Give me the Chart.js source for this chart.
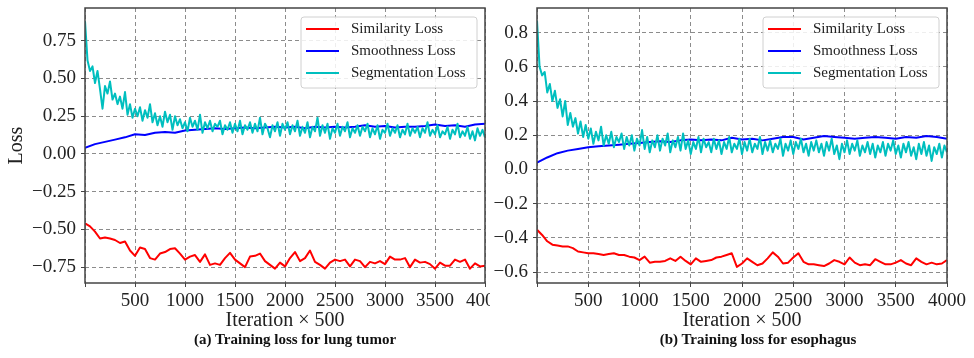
<!DOCTYPE html>
<html>
<head>
<meta charset="utf-8">
<script src="https://cdn.jsdelivr.net/npm/chart.js@4.4.1/dist/chart.umd.min.js"></script>
<style>
  body { margin: 0; background: #fff; width: 974px; height: 358px; overflow: hidden; position: relative; }
  .panel { position: absolute; top: 0; height: 358px; }
  #panelA { left: 0; width: 490px; }
  #panelB { left: 490px; width: 484px; }
  .caption { position: absolute; top: 331px; font: bold 15px "Liberation Serif", serif; color: #111; white-space: nowrap; transform: translateX(-50%); }
</style>
</head>
<body>
<div class="panel" id="panelA"><canvas id="chartA" width="490" height="358"></canvas></div>
<div class="panel" id="panelB"><canvas id="chartB" width="484" height="358"></canvas></div>
<div class="caption" style="left:295px">(a) Training loss for lung tumor</div>
<div class="caption" style="left:758px">(b) Training loss for esophagus</div>
<script>
// iteration positions (x) at three sampling steps
function range(start, stop, step) {
    const out = [];
    for (let v = start; v <= stop; v += step) out.push(v);
    return out;
}
const iters25 = range(0, 4000, 25);
const iters50 = range(0, 4000, 50);
const iters100 = range(0, 4000, 100);

const seriesLabels = ['Similarity Loss', 'Smoothness Loss', 'Segmentation Loss'];

// (a) lung tumor
const lungSimilarity = [
    -0.46, -0.48, -0.515, -0.56, -0.553, -0.56, -0.57, -0.59, -0.58, -0.64,
    -0.675, -0.62, -0.63, -0.69, -0.70, -0.66, -0.65, -0.63, -0.625, -0.66,
    -0.70, -0.68, -0.67, -0.715, -0.665, -0.735, -0.725, -0.735, -0.69, -0.655,
    -0.70, -0.725, -0.75, -0.68, -0.675, -0.66, -0.71, -0.735, -0.76, -0.72,
    -0.745, -0.69, -0.65, -0.71, -0.69, -0.64, -0.715, -0.735, -0.76, -0.72,
    -0.70, -0.71, -0.70, -0.745, -0.70, -0.71, -0.75, -0.715, -0.725, -0.71,
    -0.73, -0.68, -0.70, -0.70, -0.69, -0.75, -0.70, -0.72, -0.715, -0.73,
    -0.76, -0.72, -0.74, -0.74, -0.70, -0.715, -0.70, -0.76, -0.725, -0.745,
    -0.74
];
const lungSmoothness = [
    0.04, 0.065, 0.08, 0.095, 0.11, 0.13, 0.125, 0.14, 0.145, 0.14,
    0.155, 0.16, 0.165, 0.17, 0.165, 0.17, 0.175, 0.17, 0.175, 0.18,
    0.175, 0.18, 0.17, 0.18, 0.175, 0.18, 0.175, 0.18, 0.19, 0.18,
    0.185, 0.175, 0.18, 0.18, 0.185, 0.195, 0.185, 0.19, 0.18, 0.195,
    0.20
];
const lungSegmentation = [
    0.88, 0.62, 0.55, 0.58, 0.47, 0.55, 0.43, 0.30, 0.45, 0.40,
    0.48, 0.36, 0.40, 0.33, 0.38, 0.30, 0.41, 0.26, 0.33, 0.24,
    0.30, 0.25, 0.31, 0.22, 0.29, 0.24, 0.33, 0.21, 0.27, 0.19,
    0.25, 0.18, 0.28, 0.21, 0.26, 0.16, 0.25, 0.19, 0.23, 0.17,
    0.21, 0.15, 0.24, 0.18, 0.22, 0.16, 0.26, 0.14, 0.21, 0.17,
    0.22, 0.15, 0.20, 0.18, 0.22, 0.13, 0.19, 0.16, 0.21, 0.14,
    0.20, 0.15, 0.22, 0.13, 0.19, 0.16, 0.21, 0.14, 0.20, 0.15,
    0.24, 0.13, 0.20, 0.17, 0.11, 0.19, 0.15, 0.21, 0.12, 0.20,
    0.16, 0.21, 0.13, 0.19, 0.15, 0.22, 0.12, 0.18, 0.14, 0.21,
    0.11, 0.18, 0.15, 0.24, 0.12, 0.19, 0.14, 0.20, 0.10, 0.17,
    0.14, 0.20, 0.12, 0.18, 0.15, 0.21, 0.11, 0.17, 0.14, 0.19,
    0.12, 0.18, 0.15, 0.20, 0.11, 0.17, 0.13, 0.19, 0.10, 0.16,
    0.14, 0.20, 0.12, 0.17, 0.14, 0.19, 0.11, 0.16, 0.13, 0.20,
    0.12, 0.17, 0.14, 0.18, 0.11, 0.17, 0.14, 0.21, 0.12, 0.16,
    0.13, 0.19, 0.11, 0.15, 0.13, 0.18, 0.10, 0.16, 0.13, 0.20,
    0.11, 0.15, 0.12, 0.18, 0.10, 0.15, 0.09, 0.17, 0.12, 0.16,
    0.11
];

// (b) esophagus
const esoSimilarity = [
    -0.353, -0.383, -0.42, -0.44, -0.445, -0.45, -0.45, -0.46, -0.48, -0.485,
    -0.49, -0.49, -0.495, -0.50, -0.495, -0.49, -0.50, -0.50, -0.51, -0.515,
    -0.53, -0.51, -0.545, -0.54, -0.54, -0.535, -0.52, -0.535, -0.51, -0.535,
    -0.555, -0.52, -0.54, -0.535, -0.53, -0.515, -0.51, -0.50, -0.49, -0.57,
    -0.55, -0.52, -0.54, -0.56, -0.55, -0.52, -0.485, -0.51, -0.55, -0.545,
    -0.515, -0.49, -0.54, -0.555, -0.555, -0.56, -0.565, -0.55, -0.53, -0.54,
    -0.555, -0.515, -0.545, -0.56, -0.555, -0.56, -0.525, -0.54, -0.555, -0.555,
    -0.545, -0.53, -0.55, -0.56, -0.52, -0.54, -0.555, -0.545, -0.555, -0.55,
    -0.53
];
const esoSmoothness = [
    0.04, 0.07, 0.095, 0.11, 0.12, 0.13, 0.135, 0.14, 0.145, 0.15,
    0.155, 0.16, 0.165, 0.16, 0.17, 0.175, 0.17, 0.175, 0.17, 0.185,
    0.175, 0.18, 0.17, 0.18, 0.19, 0.19, 0.175, 0.185, 0.195, 0.19,
    0.185, 0.18, 0.185, 0.19, 0.185, 0.18, 0.19, 0.185, 0.195, 0.19,
    0.18
];
const esoSegmentation = [
    0.87, 0.60, 0.55, 0.57, 0.45, 0.50, 0.40, 0.46, 0.36, 0.41,
    0.31, 0.40, 0.26, 0.33, 0.25, 0.30, 0.21, 0.28, 0.19, 0.26,
    0.18, 0.24, 0.15, 0.22, 0.17, 0.25, 0.14, 0.20, 0.15, 0.22,
    0.13, 0.19, 0.16, 0.21, 0.12, 0.19, 0.14, 0.20, 0.11, 0.18,
    0.14, 0.23, 0.12, 0.19, 0.10, 0.17, 0.13, 0.20, 0.11, 0.18,
    0.14, 0.21, 0.10, 0.17, 0.13, 0.19, 0.11, 0.21, 0.12, 0.17,
    0.09, 0.16, 0.12, 0.19, 0.10, 0.18, 0.13, 0.16, 0.10, 0.18,
    0.12, 0.17, 0.09, 0.16, 0.12, 0.19, 0.10, 0.15, 0.12, 0.18,
    0.09, 0.16, 0.11, 0.18, 0.10, 0.15, 0.12, 0.19, 0.09, 0.16,
    0.11, 0.17, 0.10, 0.15, 0.12, 0.18, 0.08, 0.15, 0.11, 0.17,
    0.09, 0.16, 0.12, 0.18, 0.10, 0.15, 0.08, 0.16, 0.11, 0.17,
    0.10, 0.15, 0.08, 0.16, 0.11, 0.18, 0.09, 0.14, 0.06, 0.15,
    0.10, 0.17, 0.09, 0.15, 0.11, 0.17, 0.08, 0.14, 0.10, 0.16,
    0.09, 0.15, 0.07, 0.14, 0.10, 0.16, 0.08, 0.15, 0.11, 0.17,
    0.09, 0.14, 0.07, 0.15, 0.10, 0.16, 0.08, 0.13, 0.06, 0.15,
    0.09, 0.16, 0.08, 0.14, 0.05, 0.13, 0.09, 0.15, 0.07, 0.14,
    0.10
];

const FONT = '"Liberation Serif", "Times New Roman", serif';
const seriesColors = ['#ff0000', '#0000ff', '#00bfbf'];

function pairs(xs, ys) {
    return ys.map((y, i) => ({ x: xs[i], y: y }));
}

// frame around plot area + legend box in the upper right corner
const framePlugin = {
    id: 'frame',
    afterDraw(chart) {
        const ctx = chart.ctx;
        const a = chart.chartArea;
        ctx.save();
        ctx.strokeStyle = '#444';
        ctx.lineWidth = 1.5;
        ctx.strokeRect(a.left, a.top, a.right - a.left, a.bottom - a.top);

        // legend
        const w = 176, h = 71;
        const bx = a.right - 8 - w, by = a.top + 9;
        ctx.beginPath();
        ctx.roundRect(bx, by, w, h, 3);
        ctx.fillStyle = 'rgba(255,255,255,0.85)';
        ctx.fill();
        ctx.strokeStyle = '#d0d0d0';
        ctx.lineWidth = 1;
        ctx.stroke();
        ctx.font = '15px ' + FONT;
        ctx.textBaseline = 'middle';
        ctx.fillStyle = '#222';
        chart.data.datasets.forEach(function (ds, i) {
            const y = by + 12 + i * 22;
            ctx.beginPath();
            ctx.moveTo(bx + 5, y);
            ctx.lineTo(bx + 38, y);
            ctx.strokeStyle = ds.borderColor;
            ctx.lineWidth = 2;
            ctx.stroke();
            ctx.fillText(ds.label, bx + 50, y);
        });
        ctx.restore();
    }
};

function minusFmt(v, digits) {
    if (Math.abs(v) < 1e-9) v = 0;
    return v.toFixed(digits).replace('-', '\u2212');
}

function makeChart(canvasId, opts) {
    const ctx = document.getElementById(canvasId).getContext('2d');
    const gridStyle = {
        color: '#8c8c8c',
        lineWidth: 1,
        drawTicks: true,
        tickLength: 4,
        tickColor: '#444',
        tickBorderDash: [],
        tickWidth: 1
    };
    // in Chart.js v4 the dash of the grid lines comes from border.dash
    const borderStyle = { display: false, dash: [4, 3] };
    return new Chart(ctx, {
        type: 'line',
        data: {
            datasets: [
                {
                    label: seriesLabels[0],
                    data: pairs(iters50, opts.similarity),
                    borderColor: seriesColors[0],
                    order: 2
                },
                {
                    label: seriesLabels[1],
                    data: pairs(iters100, opts.smoothness),
                    borderColor: seriesColors[1],
                    order: 1
                },
                {
                    label: seriesLabels[2],
                    data: pairs(iters25, opts.segmentation),
                    borderColor: seriesColors[2],
                    order: 0
                }
            ]
        },
        options: {
            responsive: false,
            animation: false,
            events: [],
            datasets: {
                line: {
                    borderWidth: 2,
                    pointRadius: 0,
                    tension: 0,
                    fill: false,
                    borderJoinStyle: 'round'
                }
            },
            layout: {
                padding: opts.padding
            },
            plugins: {
                legend: { display: false },
                tooltip: { enabled: false }
            },
            scales: {
                x: {
                    type: 'linear',
                    min: 0,
                    max: 4000,
                    border: borderStyle,
                    grid: gridStyle,
                    ticks: {
                        stepSize: 500,
                        autoSkip: false,
                        maxRotation: 0,
                        padding: 3,
                        color: '#222',
                        font: { family: FONT, size: 19 },
                        callback: function (v) { return v === 0 ? '' : String(v); }
                    },
                    title: {
                        display: true,
                        text: 'Iteration \u00d7 500',
                        color: '#222',
                        padding: 0,
                        font: { family: FONT, size: 20, lineHeight: 1.2 }
                    },
                    afterFit: function (scale) {
                        scale.height = 50;
                        scale.paddingLeft = 0;
                        scale.paddingRight = 0;
                    }
                },
                y: {
                    min: opts.yMin,
                    max: opts.yMax,
                    border: borderStyle,
                    grid: gridStyle,
                    ticks: {
                        stepSize: opts.yStep,
                        includeBounds: false,
                        padding: 5,
                        color: '#222',
                        font: { family: FONT, size: 19 },
                        callback: function (v) { return minusFmt(v, opts.yDigits); }
                    },
                    title: {
                        display: opts.yTitle,
                        text: 'Loss',
                        color: '#222',
                        padding: 0,
                        font: { family: FONT, size: 20, lineHeight: 1.2 }
                    },
                    afterFit: function (scale) {
                        scale.width = opts.yWidth;
                        scale.paddingTop = 0;
                        scale.paddingBottom = 0;
                    }
                }
            }
        },
        plugins: [framePlugin]
    });
}

makeChart('chartA', {
    similarity: lungSimilarity,
    smoothness: lungSmoothness,
    segmentation: lungSegmentation,
    yMin: -0.855, yMax: 0.967, yStep: 0.25, yDigits: 2,
    yTitle: true, yWidth: 80,
    padding: { left: 5, right: 5, top: 8, bottom: 25 }
});

makeChart('chartB', {
    similarity: esoSimilarity,
    smoothness: esoSmoothness,
    segmentation: esoSegmentation,
    yMin: -0.664, yMax: 0.944, yStep: 0.2, yDigits: 1,
    yTitle: false, yWidth: 47,
    padding: { left: 0, right: 27, top: 8, bottom: 25 }
});
</script>
</body>
</html>
